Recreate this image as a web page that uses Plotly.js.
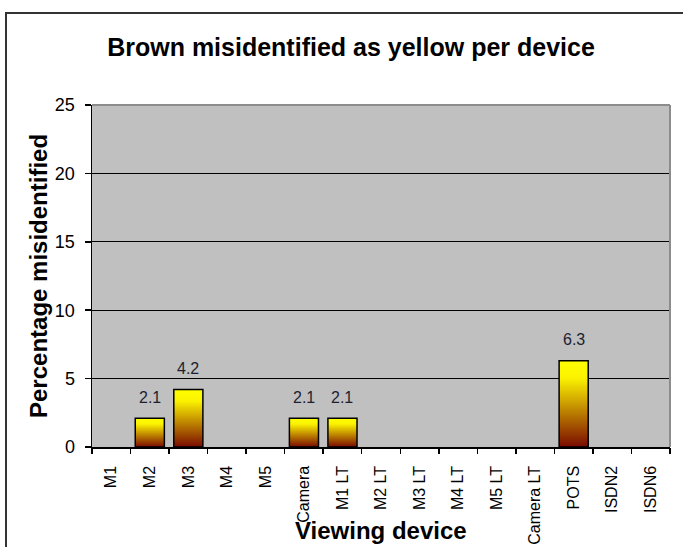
<!DOCTYPE html>
<html>
<head>
<meta charset="utf-8">
<script src="https://cdn.plot.ly/plotly-3.0.1.min.js"></script>
<style>
  html, body { margin: 0; padding: 0; background: #ffffff; overflow: hidden; }
  #chart { position: absolute; left: 0; top: 0; width: 683px; height: 547px; }
  #frame { position: absolute; left: 5px; top: 12px; width: 800px; height: 800px;
           border: 2px solid #333333; pointer-events: none; }
</style>
</head>
<body>
<div id="chart"></div>
<div id="frame"></div>
<script>
// ---- data ----
const categories = ['M1', 'M2', 'M3', 'M4', 'M5', 'Camera', 'M1 LT', 'M2 LT', 'M3 LT',
                    'M4 LT', 'M5 LT', 'Camera LT', 'POTS', 'ISDN2', 'ISDN6'];
const values = [0, 2.1, 4.2, 0, 0, 2.1, 2.1, 0, 0, 0, 0, 0, 6.3, 0, 0];
const yTicks = [0, 5, 10, 15, 20, 25];
const chartTitle = 'Brown misidentified as yellow per device';
const xTitle = 'Viewing device';
const yTitle = 'Percentage misidentified';

const FONT = 'Liberation Sans, Arial, sans-serif';

// category boundaries (where Excel draws its x tick marks)
const boundaries = categories.map((_, i) => i - 0.5).concat([categories.length - 0.5]);

const trace = {
  type: 'bar',
  x: categories,
  y: values,
  marker: {
    color: '#ffff00',
    line: { color: '#000000', width: values.map(v => (v > 0 ? 1.5 : 0)) }
  },
  hoverinfo: 'x+y'
};

const labelAnnotations = categories
  .map((c, i) => ({ c, v: values[i] }))
  .filter(d => d.v > 0)
  .map(d => ({
    x: d.c, y: d.v, xref: 'x', yref: 'y',
    text: d.v.toFixed(1),
    showarrow: false,
    yanchor: 'middle',
    yshift: 21,
    font: { family: FONT, size: 16, color: '#1e1e30' }
  }));

const layout = {
  width: 683,
  height: 547,
  margin: { l: 92, r: 13, t: 105, b: 100 },
  paper_bgcolor: '#ffffff',
  plot_bgcolor: '#c0c0c0',
  showlegend: false,
  bargap: 0.245,
  title: {
    text: chartTitle,
    xref: 'container', yref: 'container',
    x: 351 / 683, y: 1 - 47 / 547,
    xanchor: 'center', yanchor: 'middle',
    font: { family: FONT, size: 25, color: '#000000', weight: 'bold' }
  },
  xaxis: {
    type: 'category',
    range: [-0.5, categories.length - 0.5],
    tickangle: -90,
    ticks: '',
    showline: true,
    linecolor: '#000000',
    linewidth: 1.5,
    showgrid: false,
    ticklabelstandoff: 11,
    tickfont: { family: FONT, size: 16, color: '#000000' },
    automargin: false,
    fixedrange: true
  },
  xaxis2: {
    overlaying: 'x',
    anchor: 'y',
    side: 'bottom',
    range: [-0.5, categories.length - 0.5],
    tickvals: boundaries,
    showticklabels: false,
    ticks: 'outside',
    ticklen: 6,
    tickwidth: 1.5,
    tickcolor: '#000000',
    showline: false,
    showgrid: false,
    zeroline: false,
    fixedrange: true
  },
  yaxis: {
    range: [0, 25],
    tickvals: yTicks,
    ticktext: yTicks.map(String),
    ticks: 'outside',
    ticklen: 6,
    tickwidth: 1.5,
    tickcolor: '#000000',
    showline: true,
    linecolor: '#000000',
    linewidth: 1.5,
    showgrid: true,
    gridcolor: '#000000',
    gridwidth: 1,
    zeroline: false,
    ticklabelstandoff: 6,
    tickfont: { family: FONT, size: 18, color: '#000000' },
    automargin: false,
    fixedrange: true
  },
  shapes: [
    { type: 'line', xref: 'paper', yref: 'paper', x0: 0, x1: 1, y0: 1, y1: 1,
      line: { color: '#8c8c8c', width: 2 }, layer: 'above' },
    { type: 'line', xref: 'paper', yref: 'paper', x0: 1, x1: 1, y0: 0, y1: 1,
      line: { color: '#8c8c8c', width: 2 }, layer: 'above' }
  ],
  annotations: labelAnnotations.concat([
    {
      text: xTitle, xref: 'paper', yref: 'paper', x: 0.5, y: (447 - 530) / 342,
      xanchor: 'center', yanchor: 'middle', showarrow: false,
      font: { family: FONT, size: 24, color: '#000000', weight: 'bold' }
    },
    {
      text: yTitle, xref: 'paper', yref: 'paper', x: (38 - 92) / 578, y: 0.5,
      xanchor: 'center', yanchor: 'middle', textangle: -90, showarrow: false,
      font: { family: FONT, size: 24, color: '#000000', weight: 'bold' }
    }
  ])
};

// invisible helper trace so the boundary-tick axis is drawn
const tickHelper = {
  type: 'scatter', x: [], y: [], xaxis: 'x2', yaxis: 'y',
  hoverinfo: 'skip', showlegend: false
};

Plotly.newPlot('chart', [trace, tickHelper], layout, { displayModeBar: false, staticPlot: true }).then(gd => {
  const svgNS = 'http://www.w3.org/2000/svg';
  const svg = gd.querySelector('svg.main-svg');
  let defs = svg.querySelector('defs');
  if (!defs) { defs = document.createElementNS(svgNS, 'defs'); svg.insertBefore(defs, svg.firstChild); }
  const grad = document.createElementNS(svgNS, 'linearGradient');
  grad.setAttribute('id', 'barGrad');
  grad.setAttribute('x1', '0'); grad.setAttribute('y1', '0');
  grad.setAttribute('x2', '0'); grad.setAttribute('y2', '1');
  [['0%', '#ffff00'], ['20%', '#fbf200'], ['100%', '#7a0a00']].forEach(([o, c]) => {
    const s = document.createElementNS(svgNS, 'stop');
    s.setAttribute('offset', o); s.setAttribute('stop-color', c);
    grad.appendChild(s);
  });
  defs.appendChild(grad);
  gd.querySelectorAll('.barlayer .point path').forEach(p => { p.style.fill = 'url(#barGrad)'; });
});
</script>
</body>
</html>
